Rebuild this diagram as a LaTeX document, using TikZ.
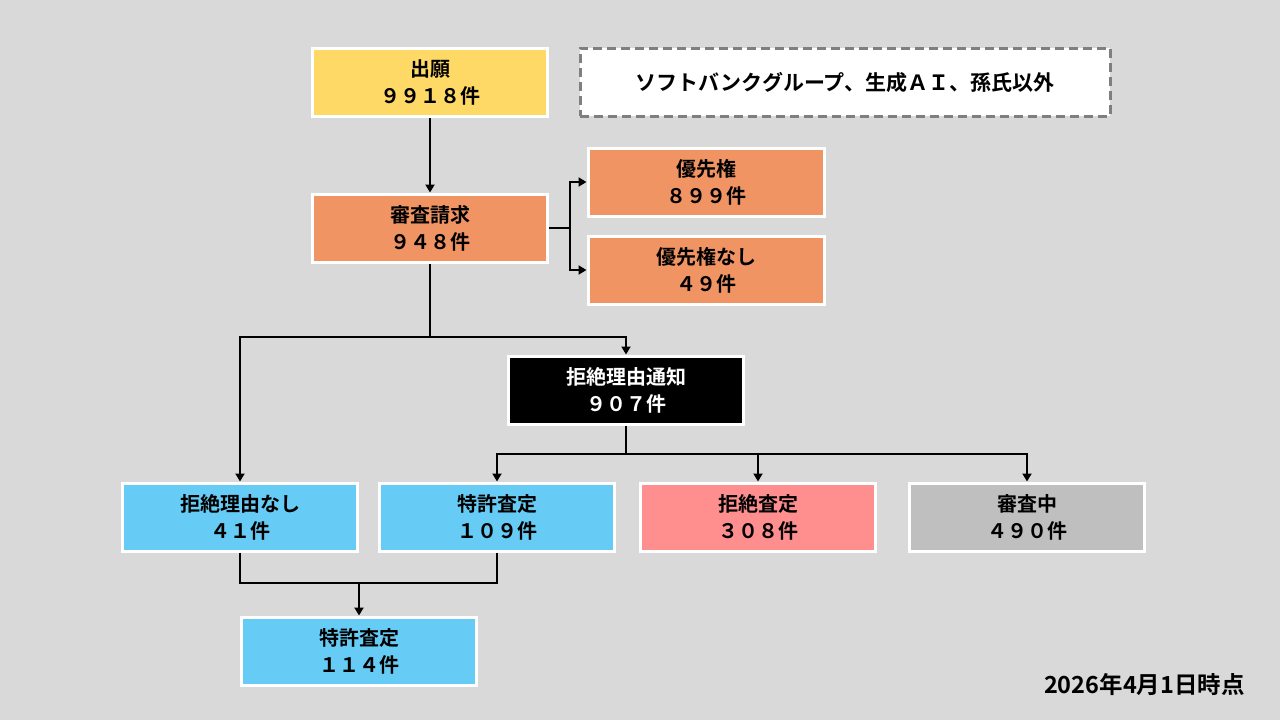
\documentclass[tikz,border=0pt]{standalone}
\usepackage{fontspec}
\setmainfont{Noto Sans CJK JP}[BoldFont={Noto Sans CJK JP Bold}]
\usetikzlibrary{arrows.meta}
\definecolor{bg}{HTML}{D9D9D9}
\definecolor{cyellow}{HTML}{FFD966}
\definecolor{corange}{HTML}{F09464}
\definecolor{cblue}{HTML}{66CCF5}
\definecolor{cpink}{HTML}{FF8F8F}
\definecolor{cgray}{HTML}{BFBFBF}
\definecolor{dashgray}{HTML}{7F7F7F}
\begin{document}
\begin{tikzpicture}[x=1pt,y=-1pt,
  box/.style={draw=white,line width=3pt,minimum width=235pt,minimum height=68pt,
    inner sep=0pt,align=center,font=\fontsize{20}{27}\selectfont\bfseries},
  conn/.style={line width=2.6pt,black},
  arr/.style={conn,-{Triangle[length=8pt,width=9pt]}}]
\fill[bg] (0,0) rectangle (1280,720);
\useasboundingbox (0,0) rectangle (1280,720);
\node[box,fill=cyellow] (app) at (430,82) {出願\\９９１８件};
\node[box,fill=white,draw=dashgray,dash pattern=on 9pt off 5pt,minimum width=530pt,font=\fontsize{21}{27}\selectfont\bfseries] (note) at (845,82) {ソフトバンクグループ、生成ＡＩ、孫氏以外};
\node[box,fill=corange] (req) at (430,228) {審査請求\\９４８件};
\node[box,fill=corange,minimum width=236pt] (pri) at (706,182) {優先権\\８９９件};
\node[box,fill=corange,minimum width=236pt] (nopri) at (706,270) {優先権なし\\４９件};
\node[box,fill=black,text=white] (oa) at (626,390) {拒絶理由通知\\９０７件};
\node[box,fill=cblue] (none) at (240,517) {拒絶理由なし\\４１件};
\node[box,fill=cblue] (grant) at (497,517) {特許査定\\１０９件};
\node[box,fill=cpink] (rej) at (758,517) {拒絶査定\\３０８件};
\node[box,fill=cgray] (pend) at (1027,517) {審査中\\４９０件};
\node[box,fill=cblue] (total) at (359,651) {特許査定\\１１４件};
\node[anchor=east,inner sep=0pt,font=\fontsize{23.5}{27}\selectfont\bfseries] (date) at (1245,685) {2026年4月1日時点};
% connectors
\draw[arr] (app.south) -- (req.north);
\coordinate (s1) at (570,228);
\draw[conn] (req.east) -- (s1);
\draw[arr] (s1) |- (pri.west);
\draw[arr] (s1) |- (nopri.west);
\coordinate (j1) at (430,337);
\draw[conn] (req.south) -- (j1);
\draw[arr] (j1) -| (oa.north);
\draw[arr] (j1) -| (none.north);
\coordinate (j2) at (626,454);
\draw[conn] (oa.south) -- (j2);
\draw[arr] (j2) -| (grant.north);
\draw[arr] (j2) -| (rej.north);
\draw[arr] (j2) -| (pend.north);
\coordinate (j3) at (359,583);
\draw[conn] (none.south) |- (j3);
\draw[conn] (grant.south) |- (j3);
\draw[arr] (j3) -- (total.north);
\end{tikzpicture}
\end{document}
